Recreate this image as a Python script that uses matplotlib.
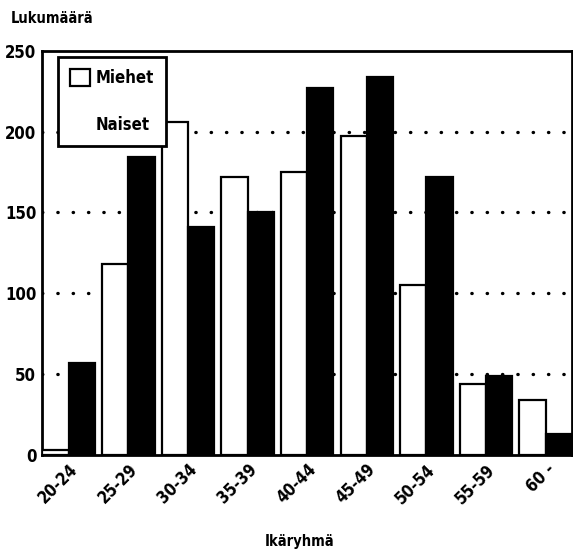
import matplotlib
matplotlib.use('Agg')
import matplotlib.pyplot as plt
import matplotlib.patches as mpatches
import numpy as np

groups = ["20-24", "25-29", "30-34", "35-39", "40-44", "45-49", "50-54", "55-59", "60 -"]
miehet = [3, 118, 206, 172, 175, 197, 105, 44, 34]
naiset = [57, 184, 141, 150, 227, 234, 172, 49, 13]
yticks = [0, 50, 100, 150, 200, 250]

plt.rcParams['font.family'] = ['DejaVu Sans']
plt.rcParams['font.stretch'] = 'condensed'

fig = plt.figure(figsize=(5.73, 5.57), dpi=100)
ax = fig.add_axes([0.073, 0.183, 0.925, 0.726])

x = np.arange(len(groups))
w = 0.44
ax.bar(x - w / 2, miehet, w, color='white', edgecolor='black', linewidth=1.6, zorder=3)
ax.bar(x + w / 2, naiset, w, color='black', edgecolor='black', linewidth=1.6, zorder=3)

ax.set_xlim(-0.45, 8.44)
ax.set_ylim(0, 250)
ax.set_yticks(yticks)
ax.set_yticklabels([str(v) for v in yticks], fontsize=12, fontweight='bold')
ax.set_xticks(x)
ax.set_xticklabels(groups, rotation=45, ha='right', rotation_mode='anchor',
                   fontsize=12, fontweight='bold')
ax.tick_params(axis='both', length=0, pad=4)

for v in yticks[1:-1]:
    ax.axhline(v, color='black', linestyle=(0, (0.1, 4.5)), linewidth=2.4,
               dash_capstyle='round', zorder=1)

for s in ax.spines.values():
    s.set_linewidth(2)

handles = [mpatches.Patch(facecolor='white', edgecolor='black', linewidth=1.6),
           mpatches.Patch(facecolor='none', edgecolor='none')]
leg = ax.legend(handles, ['Miehet', 'Naiset'], loc='upper left',
                bbox_to_anchor=(0.101, 0.898), bbox_transform=fig.transFigure,
                borderaxespad=0, fontsize=12,
                frameon=True, fancybox=False, edgecolor='black', framealpha=1,
                handlelength=1.15, handleheight=1.15,
                labelspacing=1.7, borderpad=0.75, handletextpad=0.35)
leg.get_frame().set_linewidth(2)
leg.set_zorder(5)
for t in leg.get_texts():
    t.set_fontweight('bold')

fig.text(0.018, 0.967, 'Lukumäärä', fontsize=10.5, fontweight='bold', ha='left', va='center')
fig.text(0.523, 0.015, 'Ikäryhmä', fontsize=10.5, fontweight='bold', ha='center', va='bottom')

fig.savefig('out.png', dpi=100)
